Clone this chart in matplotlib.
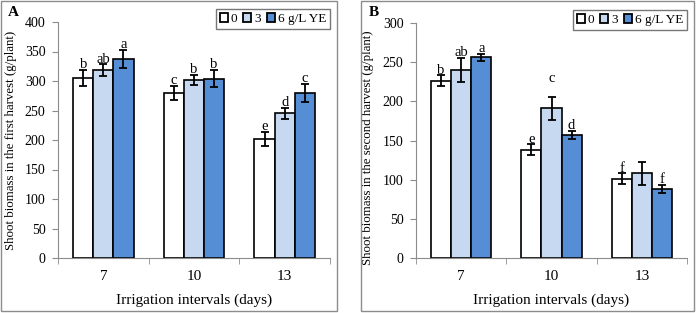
import matplotlib.pyplot as plt
from matplotlib.patches import Rectangle, Patch
import numpy as np

plt.rcParams['font.family'] = ['Liberation Serif', 'DejaVu Serif']

intervals = ['7', '10', '13']
doses = ['0', '3', '6 g/L YE']
colors = ['white', '#C6D9F1', '#558ED5']

# panel A - first harvest
first_mean = [[305, 280, 201], [318, 302, 245], [337, 304, 280]]
first_err = [[13, 12, 12], [10, 9, 10], [15, 15, 15]]
first_letters = [['b', 'c', 'e'], ['ab', 'b', 'd'], ['a', 'b', 'c']]

# panel B - second harvest
second_mean = [[226, 138, 101], [240, 191, 108], [256, 157, 88]]
second_err = [[7, 7, 7], [15, 15, 15], [5, 5, 5]]
second_letters = [['b', 'e', 'f'], ['ab', 'c', ''], ['a', 'd', 'f']]

W, H = 696, 313
fig = plt.figure(figsize=(W / 100, H / 100), dpi=100)


def draw_panel(rect, means, errs, letters, ymax, ystep, ylabel, tag, tag_xy, box, label_xy):
    # gray frame around the panel
    fig.patches.append(Rectangle((box[0] / W, 1 - box[3] / H), (box[2] - box[0]) / W,
                                 (box[3] - box[1]) / H, transform=fig.transFigure,
                                 fill=False, edgecolor='#8c8c8c', lw=1.0))
    fig.text(tag_xy[0] / W, 1 - tag_xy[1] / H, tag, fontsize=11, fontweight='bold',
             ha='left', va='center')
    ax = fig.add_axes([rect[0] / W, 1 - rect[3] / H, (rect[2] - rect[0]) / W,
                       (rect[3] - rect[1]) / H])
    x = np.arange(len(intervals))
    bw = 0.222
    for i in range(len(doses)):
        pos = x + (i - 1) * bw
        ax.bar(pos, means[i], bw, color=colors[i], edgecolor='black', lw=1.2,
               label=doses[i], zorder=2)
        ax.errorbar(pos, means[i], yerr=errs[i], fmt='none', ecolor='black',
                    elinewidth=1.3, capsize=3.2, capthick=1.3, zorder=3)
        for j in range(len(intervals)):
            if letters[i][j]:
                extra = 9 if (tag == 'B' and letters[i][j] == 'c') else 0
                ax.annotate(letters[i][j], (pos[j], means[i][j] + errs[i][j]),
                            xytext=(0, -0.8 + extra), textcoords='offset points',
                            ha='center', va='bottom', fontsize=10.5)
    ax.set_xlim(-0.5, 2.5)
    ax.set_ylim(0, ymax)
    ax.set_yticks(np.arange(0, ymax + 1, ystep))
    ax.set_xticks(x)
    ax.set_xticklabels(intervals, fontsize=11)
    ax.set_xticks([-0.5, 0.5, 1.5, 2.5], minor=True)
    ax.tick_params(axis='x', which='major', length=0, pad=9)
    ax.tick_params(axis='x', which='minor', length=4, color='#8c8c8c')
    ax.tick_params(axis='y', length=4, color='#8c8c8c', labelsize=10, pad=5)
    for s in ['top', 'right']:
        ax.spines[s].set_visible(False)
    for s in ['left', 'bottom']:
        ax.spines[s].set_color('#8c8c8c')
    ax.set_xlabel('Irrigation intervals (days)', fontsize=11, labelpad=7)
    ax.set_ylabel(ylabel, fontsize=9.3)
    ax.yaxis.set_label_coords(*label_xy)
    handles = [Patch(facecolor=c, edgecolor='black', lw=1.3) for c in colors]
    ax.legend(handles, doses, ncol=3, loc='upper right', bbox_to_anchor=(1.0, 1.055),
              fontsize=9.5, handlelength=0.6, handleheight=0.6, handletextpad=0.2,
              columnspacing=0.5, borderpad=0.3, frameon=True, fancybox=False,
              edgecolor='#555555', borderaxespad=0.0)
    return ax


axA = draw_panel((58, 22, 330, 258), first_mean, first_err, first_letters, 400, 50,
                 'Shoot biomass in the first harvest (g/plant)', 'A', (8, 12),
                 (1, 1, 337, 311), (-0.15, 0.5))
axB = draw_panel((416, 23, 687, 258), second_mean, second_err, second_letters, 300, 50,
                 'Shoot biomass in the second harvest (g/plant)', 'B', (369, 12),
                 (361, 1, 694, 311), (-0.155, 0.47))

plt.savefig('out.png', dpi=100)
